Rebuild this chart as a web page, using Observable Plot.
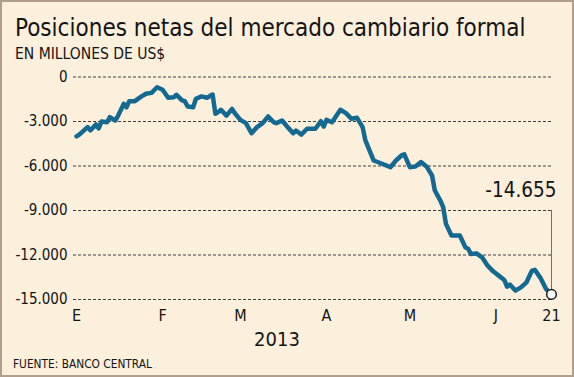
<!DOCTYPE html>
<html>
<head>
<meta charset="utf-8">
<script src="https://cdn.jsdelivr.net/npm/d3@7"></script>
<script src="https://cdn.jsdelivr.net/npm/@observablehq/plot@0.6"></script>
<style>
  html, body { margin: 0; padding: 0; background: #fcefdc; }
  #card { position: relative; width: 574px; height: 377px; background: #fcefdc; overflow: hidden;
          font-family: "DejaVu Sans Condensed", "DejaVu Sans", sans-serif; color: #141414; }
  #frame { position: absolute; left: 0; top: 0; width: 574px; height: 377px; box-sizing: border-box;
           border: 2px solid #b29e8c; pointer-events: none; }
  .t { position: absolute; white-space: nowrap; line-height: 1; font-stretch: condensed; }
  #title { left: 15px; top: 16.4px; font-size: 24px; }
  #subtitle { left: 15px; top: 47px; font-size: 15.5px; }
  #year { left: 277px; top: 329px; font-size: 20px; transform: translateX(-50%); }
  #source { left: 13px; top: 359px; font-size: 11.8px; }
  #chart { position: absolute; left: 0; top: 60px; }
</style>
</head>
<body>
<div id="card">
  <div class="t" id="title">Posiciones netas del mercado cambiario formal</div>
  <div class="t" id="subtitle">EN MILLONES DE US$</div>
  <div id="chart"></div>
  <div class="t" id="year">2013</div>
  <div class="t" id="source">FUENTE: BANCO CENTRAL</div>
  <div id="frame"></div>
</div>
<script>
// ---- data ----
const dates = [
  "2013-01-01","2013-01-02","2013-01-03","2013-01-05","2013-01-06","2013-01-08","2013-01-09","2013-01-10",
  "2013-01-12","2013-01-13","2013-01-15","2013-01-16","2013-01-18","2013-01-19","2013-01-20","2013-01-22",
  "2013-01-24","2013-01-26","2013-01-28","2013-01-30","2013-02-01","2013-02-03","2013-02-05","2013-02-06",
  "2013-02-08","2013-02-09","2013-02-10","2013-02-12","2013-02-13","2013-02-15","2013-02-17","2013-02-19",
  "2013-02-20","2013-02-21","2013-02-22","2013-02-24","2013-02-26","2013-02-27","2013-03-01","2013-03-03",
  "2013-03-05","2013-03-07","2013-03-09","2013-03-11","2013-03-13","2013-03-14","2013-03-16","2013-03-18",
  "2013-03-20","2013-03-21","2013-03-23","2013-03-25","2013-03-28","2013-03-30","2013-03-31","2013-04-01",
  "2013-04-03","2013-04-06","2013-04-08","2013-04-10","2013-04-12","2013-04-14","2013-04-15","2013-04-18",
  "2013-04-21","2013-04-24","2013-04-26","2013-04-28","2013-04-29","2013-05-01","2013-05-03","2013-05-05",
  "2013-05-07","2013-05-09","2013-05-10","2013-05-12","2013-05-13","2013-05-14","2013-05-16","2013-05-19",
  "2013-05-21","2013-05-22","2013-05-23","2013-05-25","2013-05-27","2013-05-29","2013-05-31","2013-06-02",
  "2013-06-04","2013-06-05","2013-06-06","2013-06-08","2013-06-10","2013-06-12","2013-06-14","2013-06-15",
  "2013-06-17","2013-06-19","2013-06-21"
];
const values = [
  -4000,-3880,-3720,-3380,-3600,-3200,-3470,-3000,
  -3050,-2710,-2930,-2600,-1810,-2040,-1630,-1630,
  -1360,-1130,-1070,-690,-860,-1400,-1360,-1200,
  -1580,-1630,-1990,-2040,-1470,-1310,-1400,-1180,
  -2480,-2370,-2210,-2600,-2150,-2440,-2890,-3110,
  -3790,-3380,-3110,-2660,-3050,-3110,-2930,-3380,
  -3790,-3610,-3880,-3490,-3490,-2980,-3340,-2890,
  -3050,-2210,-2440,-2820,-2750,-3380,-4280,-5630,
  -5850,-6080,-5630,-5290,-5220,-6080,-6030,-5740,
  -6030,-6640,-7650,-8330,-8780,-9900,-10690,-10690,
  -11480,-11590,-11930,-11890,-12160,-12720,-13100,-13390,
  -13680,-14130,-13990,-14400,-14180,-13840,-13050,-13000,
  -13540,-14280,-14655
];
const yTicks = [0, -3000, -6000, -9000, -12000, -15000];
const xTickDates = ["2013-01-01","2013-02-01","2013-03-01","2013-04-01","2013-05-01","2013-06-01","2013-06-21"];
const xTickLabels = ["E","F","M","A","M","J","21"];
const xDomain = ["2013-01-01","2013-06-21"];
const leaderTop = -9000;

// ---- chart ----
const parse = d3.utcParse("%Y-%m-%d");
const fmt = d3.formatLocale({decimal: ",", thousands: ".", grouping: [3], currency: ["$", ""], minus: "-"}).format(",d");
const data = dates.map((d, i) => ({date: parse(d), value: values[i]}));
const last = data[data.length - 1];
const tickDates = xTickDates.map(parse);
const labelOf = new Map(tickDates.map((d, i) => [+d, xTickLabels[i]]));

const chart = Plot.plot({
  width: 574,
  height: 270,
  marginTop: 16.5,
  marginBottom: 31,
  marginLeft: 73,
  marginRight: 21,
  style: {background: "transparent", fontFamily: "'DejaVu Sans Condensed', 'DejaVu Sans', sans-serif", color: "#141414", overflow: "visible"},
  x: {type: "utc", domain: xDomain.map(parse), insetLeft: 3, insetRight: 2},
  y: {domain: [-15000, 0]},
  marks: [
    Plot.ruleY(yTicks, {stroke: "#3c3c3c", strokeDasharray: "3,2", strokeWidth: 1}),
    Plot.axisY({ticks: yTicks, tickSize: 0, tickPadding: 6, tickFormat: fmt, fontSize: 15, label: null, fill: "#141414"}),
    Plot.axisX({ticks: tickDates, tickSize: 0, tickPadding: 10, tickFormat: d => labelOf.get(+d), fontSize: 16, label: null, fill: "#141414"}),
    Plot.ruleX([last], {x: "date", y1: "value", y2: () => leaderTop, stroke: "#707070", strokeWidth: 1}),
    Plot.line(data, {x: "date", y: "value", stroke: "#13698f", strokeWidth: 4.5, strokeLinejoin: "round", strokeLinecap: "round"}),
    Plot.dot([last], {x: "date", y: "value", r: 4.8, fill: "white", stroke: "#1a1a1a", strokeWidth: 1.5}),
    Plot.text([last], {x: "date", y: () => leaderTop, text: d => fmt(d.value), textAnchor: "end", lineAnchor: "bottom", dx: 5, dy: -14, fontSize: 20.5, fill: "#141414"})
  ]
});
document.getElementById("chart").appendChild(chart);
</script>
</body>
</html>
